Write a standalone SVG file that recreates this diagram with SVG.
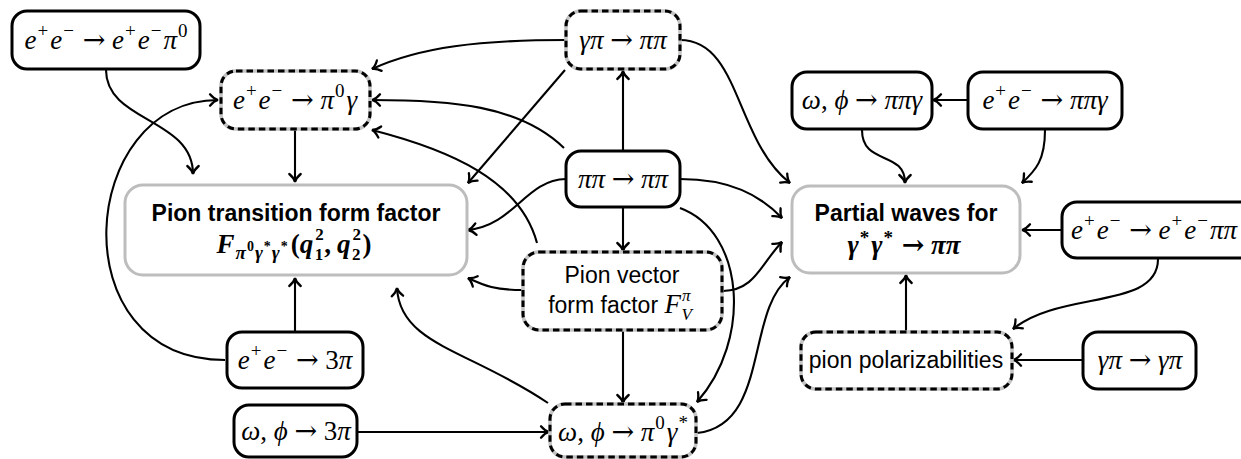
<svg xmlns="http://www.w3.org/2000/svg" width="1241" height="459" viewBox="0 0 1241 459">
<style>
.bg{fill:#fff}
.solid{fill:#fff;stroke:#000;stroke-width:3}
.gray{fill:#fff;stroke:#bdbdbd;stroke-width:3}
.dbase{fill:#fff;stroke:#c4c4c4;stroke-width:3.6}
.dash{fill:none;stroke:#000;stroke-width:3;stroke-dasharray:6.5 4}
.e{fill:none;stroke:#000;stroke-width:2.1;marker-end:url(#ah)}
.m{font-family:"Liberation Serif","DejaVu Serif",serif;font-size:27px;fill:#000}
.i{font-style:italic}
.s{font-size:19px}
.st{font-size:17px}
.ss{font-size:14px}
.ar{font-family:"DejaVu Serif",serif;font-style:normal}
.t{font-family:"Liberation Sans","DejaVu Sans",sans-serif;font-size:23px;fill:#000}
.b{font-weight:bold}
</style>
<defs>
<marker id="ah" markerUnits="userSpaceOnUse" markerWidth="16" markerHeight="16" viewBox="-9 -7 11 14" refX="0" refY="0" orient="auto">
<path d="M-7,-5 C-4.5,-2 -2,-0.5 0,0 C-2,0.5 -4.5,2 -7,5" fill="none" stroke="#000" stroke-width="2" stroke-linecap="round"/>
</marker>
</defs>
<rect class="bg" x="0" y="0" width="1241" height="459"/>

<g id="connectors">
<path class="e" d="M106,70 C106,122 193,118 193,174"/>
<path class="e" d="M295,130 L295,182"/>
<path class="e" d="M225,360 C58,360 78,100 218,100"/>
<path class="e" d="M295,332 L295,278"/>
<path class="e" d="M566,40 C480,40 420,47 372,69"/>
<path class="e" d="M565,70 L468,183"/>
<path class="e" d="M623,151 L623,71"/>
<path class="e" d="M564,148 C520,105 450,100 372,100"/>
<path class="e" d="M537,243 C520,180 450,150 372,130"/>
<path class="e" d="M566,179 C525,180 515,225 468,230"/>
<path class="e" d="M523,290 C495,290 485,286 468,278"/>
<path class="e" d="M548,403 C470,350 400,345 397,288"/>
<path class="e" d="M357,432 L549,432"/>
<path class="e" d="M623,330 L623,403"/>
<path class="e" d="M623,207 L623,251"/>
<path class="e" d="M680,208 C745,232 752,340 697,402"/>
<path class="e" d="M680,179 C730,179 760,195 782,218"/>
<path class="e" d="M680,40 C740,40 735,140 790,183"/>
<path class="e" d="M723,291 C755,290 760,265 782,242"/>
<path class="e" d="M697,433 C770,425 745,310 790,277"/>
<path class="e" d="M862,130 C862,166 905,150 905,183"/>
<path class="e" d="M1045,130 C1045,160 1036,170 1022,183"/>
<path class="e" d="M968,100 L933,100"/>
<path class="e" d="M1062,230 L1022,230"/>
<path class="e" d="M1158,259 C1158,310 1060,290 1013,329"/>
<path class="e" d="M906,332 L906,275"/>
<path class="e" d="M1083,360 L1013,360"/>
</g>

<g id="n-ee-eepi0">
<rect class="solid" x="12" y="11" width="188" height="58" rx="15"/>
<text class="m" x="106" y="49" text-anchor="middle"><tspan class="i">e</tspan><tspan class="s" dy="-12" dx="1">+</tspan><tspan class="i" dy="12" dx="2">e</tspan><tspan class="s" dy="-12" dx="1">−</tspan><tspan dy="12" dx="2"> </tspan><tspan class="ar">→</tspan> <tspan class="i">e</tspan><tspan class="s" dy="-12" dx="1">+</tspan><tspan class="i" dy="12" dx="2">e</tspan><tspan class="s" dy="-12" dx="1">−</tspan><tspan class="i" dy="12" dx="2">π</tspan><tspan class="s" dy="-12" dx="1">0</tspan></text>
</g>

<g id="n-ee-pi0gamma">
<rect class="dbase" x="221" y="71" width="149" height="58" rx="15"/>
<rect class="dash" x="221" y="71" width="149" height="58" rx="15"/>
<text class="m" x="295" y="109" text-anchor="middle"><tspan class="i">e</tspan><tspan class="s" dy="-12" dx="1">+</tspan><tspan class="i" dy="12" dx="2">e</tspan><tspan class="s" dy="-12" dx="1">−</tspan><tspan dy="12" dx="2"> </tspan><tspan class="ar">→</tspan> <tspan class="i">π</tspan><tspan class="s" dy="-12" dx="1">0</tspan><tspan class="i" dy="12" dx="2">γ</tspan></text>
</g>

<g id="n-gammapi-pipi">
<rect class="dbase" x="566" y="11" width="114" height="58" rx="15"/>
<rect class="dash" x="566" y="11" width="114" height="58" rx="15"/>
<text class="m" x="623" y="49" text-anchor="middle"><tspan class="i">γπ</tspan> <tspan class="ar">→</tspan> <tspan class="i">ππ</tspan></text>
</g>

<g id="n-pipi-pipi">
<rect class="solid" x="566" y="151" width="114" height="56" rx="15"/>
<text class="m" x="623" y="188" text-anchor="middle"><tspan class="i">ππ</tspan> <tspan class="ar">→</tspan> <tspan class="i">ππ</tspan></text>
</g>

<g id="n-tff">
<rect class="gray" x="125" y="185" width="342" height="90" rx="18"/>
<text class="t b" x="296" y="221" text-anchor="middle">Pion transition form factor</text>
<text class="m b" x="294" y="253" text-anchor="middle"><tspan class="i">F</tspan><tspan class="s i" dy="6" dx="1">π</tspan><tspan class="ss" dy="-8" dx="1">0</tspan><tspan class="s i" dy="8" dx="1">γ</tspan><tspan class="ss" dy="-8" dx="1">*</tspan><tspan class="s i" dy="8" dx="1">γ</tspan><tspan class="ss" dy="-8" dx="1">*</tspan><tspan dy="2" dx="3">(</tspan><tspan class="i">q</tspan><tspan class="st" dy="-13" dx="2">2</tspan><tspan class="st" dx="-9" dy="20">1</tspan><tspan dy="-7" dx="1">,</tspan><tspan dx="6" class="i">q</tspan><tspan class="st" dy="-13" dx="2">2</tspan><tspan class="st" dx="-9" dy="20">2</tspan><tspan dy="-7" dx="2">)</tspan></text>
</g>

<g id="n-vff">
<rect class="dbase" x="523" y="252" width="199" height="78" rx="16"/>
<rect class="dash" x="523" y="252" width="199" height="78" rx="16"/>
<text class="t" x="622" y="283" text-anchor="middle">Pion vector</text>
<text class="t" x="620" y="313" text-anchor="middle">form factor <tspan class="m i">F</tspan><tspan class="m st i" dy="-12" dx="1">π</tspan><tspan class="m st i" dx="-9" dy="19">V</tspan></text>
</g>

<g id="n-omphi-pi0gamma">
<rect class="dbase" x="550" y="404" width="146" height="53" rx="15"/>
<rect class="dash" x="550" y="404" width="146" height="53" rx="15"/>
<text class="m" x="623" y="441" text-anchor="middle"><tspan class="i">ω</tspan>, <tspan class="i">ϕ</tspan> <tspan class="ar">→</tspan> <tspan class="i">π</tspan><tspan class="s" dy="-12" dx="1">0</tspan><tspan class="i" dy="12" dx="2">γ</tspan><tspan class="s" dy="-12" dx="1">*</tspan></text>
</g>

<g id="n-ee-3pi">
<rect class="solid" x="227" y="332" width="136" height="56" rx="15"/>
<text class="m" x="295" y="369" text-anchor="middle"><tspan class="i">e</tspan><tspan class="s" dy="-12" dx="1">+</tspan><tspan class="i" dy="12" dx="2">e</tspan><tspan class="s" dy="-12" dx="1">−</tspan><tspan dy="12" dx="2"> </tspan><tspan class="ar">→</tspan> 3<tspan class="i">π</tspan></text>
</g>

<g id="n-omphi-3pi">
<rect class="solid" x="234" y="405" width="123" height="52" rx="15"/>
<text class="m" x="296" y="440" text-anchor="middle"><tspan class="i">ω</tspan>, <tspan class="i">ϕ</tspan> <tspan class="ar">→</tspan> 3<tspan class="i">π</tspan></text>
</g>

<g id="n-partial">
<rect class="gray" x="792" y="186" width="228" height="87" rx="18"/>
<text class="t b" x="906" y="221" text-anchor="middle">Partial waves for</text>
<text class="m b" x="904" y="254" text-anchor="middle"><tspan class="i">γ</tspan><tspan class="s" dy="-10" dx="1">*</tspan><tspan class="i" dy="10" dx="2">γ</tspan><tspan class="s" dy="-10" dx="1">*</tspan><tspan dy="10" dx="2"> </tspan><tspan class="ar">→</tspan> <tspan class="i">ππ</tspan></text>
</g>

<g id="n-omphi-pipigamma">
<rect class="solid" x="792" y="72" width="140" height="57" rx="15"/>
<text class="m" x="862" y="109" text-anchor="middle"><tspan class="i">ω</tspan>, <tspan class="i">ϕ</tspan> <tspan class="ar">→</tspan> <tspan class="i">ππγ</tspan></text>
</g>

<g id="n-ee-pipigamma">
<rect class="solid" x="968" y="72" width="154" height="57" rx="15"/>
<text class="m" x="1045" y="109" text-anchor="middle"><tspan class="i">e</tspan><tspan class="s" dy="-12" dx="1">+</tspan><tspan class="i" dy="12" dx="2">e</tspan><tspan class="s" dy="-12" dx="1">−</tspan><tspan dy="12" dx="2"> </tspan><tspan class="ar">→</tspan> <tspan class="i">ππγ</tspan></text>
</g>

<g id="n-ee-eepipi">
<rect class="solid" x="1062" y="202" width="220" height="56" rx="15"/>
<text class="m" x="1071" y="239"><tspan class="i">e</tspan><tspan class="s" dy="-12" dx="1">+</tspan><tspan class="i" dy="12" dx="2">e</tspan><tspan class="s" dy="-12" dx="1">−</tspan><tspan dy="12" dx="2"> </tspan><tspan class="ar">→</tspan> <tspan class="i">e</tspan><tspan class="s" dy="-12" dx="1">+</tspan><tspan class="i" dy="12" dx="2">e</tspan><tspan class="s" dy="-12" dx="1">−</tspan><tspan class="i" dy="12" dx="2">ππ</tspan></text>
</g>

<g id="n-polariz">
<rect class="dbase" x="801" y="332" width="211" height="57" rx="15"/>
<rect class="dash" x="801" y="332" width="211" height="57" rx="15"/>
<text class="t" x="906" y="368" text-anchor="middle">pion polarizabilities</text>
</g>

<g id="n-gammapi-gammapi">
<rect class="solid" x="1083" y="332" width="113" height="57" rx="15"/>
<text class="m" x="1140" y="369" text-anchor="middle"><tspan class="i">γπ</tspan> <tspan class="ar">→</tspan> <tspan class="i">γπ</tspan></text>
</g>
</svg>
